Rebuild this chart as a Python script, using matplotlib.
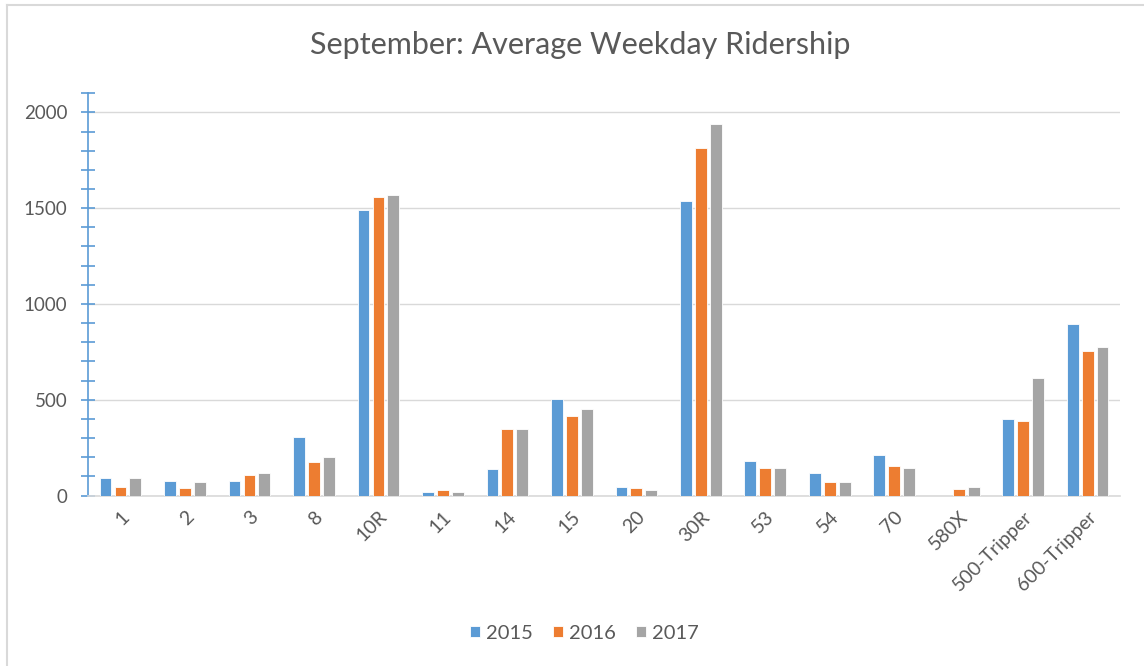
import numpy as np
import matplotlib
matplotlib.use("Agg")
import matplotlib.pyplot as plt
from matplotlib.lines import Line2D
from matplotlib.ticker import MultipleLocator

routes = ['1', '2', '3', '8', '10R', '11', '14', '15', '20', '30R',
          '53', '54', '70', '580X', '500-Tripper', '600-Tripper']
years = ['2015', '2016', '2017']
r2015 = [92, 75, 75, 304, 1488, 20, 138, 505, 45, 1537, 180, 120, 210, 0, 398, 894]
r2016 = [45, 40, 105, 174, 1560, 28, 346, 417, 40, 1814, 146, 73, 156, 33, 388, 753]
r2017 = [92, 70, 117, 202, 1567, 20, 346, 453, 27, 1940, 146, 68, 146, 44, 612, 776]
colors = ['#5B9BD5', '#ED7D31', '#A5A5A5']

plt.rcParams['font.family'] = ['Lato', 'DejaVu Sans']
txt = '#595959'

fig = plt.figure(figsize=(11.44, 6.66), dpi=100)
ax = fig.add_axes([0.077, 0.256, 0.902, 0.604])

x = np.arange(len(routes))
w = 0.18
step = 0.232
for i, vals in enumerate([r2015, r2016, r2017]):
    ax.bar(x + (i - 1) * step, vals, width=w, color=colors[i],
           edgecolor='white', linewidth=0.6, label=years[i], zorder=3)

ax.set_xlim(-0.5, len(routes) - 0.5)
ax.set_ylim(0, 2100)
ax.set_yticks([0, 500, 1000, 1500, 2000])
ax.yaxis.set_minor_locator(MultipleLocator(100))
ax.grid(axis='y', which='major', color='#D9D9D9', lw=1, zorder=0)

for s in ['top', 'right']:
    ax.spines[s].set_visible(False)
ax.spines['bottom'].set_color('#D9D9D9')
ax.spines['bottom'].set_linewidth(1.2)
ax.spines['left'].set_color('#5B9BD5')
ax.spines['left'].set_linewidth(1.2)

ax.tick_params(axis='y', which='both', direction='inout', color='#5B9BD5',
               length=10, width=1.2, labelsize=13.5, labelcolor=txt, pad=10)
ax.tick_params(axis='y', which='minor', length=10)
ax.tick_params(axis='x', length=0, pad=9)
ax.set_xticks(x)
ax.set_xticklabels(routes, rotation=45, ha='right', rotation_mode='anchor',
                   fontsize=14, color=txt)

fig.text(0.507, 0.932, 'September: Average Weekday Ridership', ha='center',
         va='center', fontsize=22, color=txt)

leg = fig.legend(loc='center', bbox_to_anchor=(0.511, 0.049), ncol=3, frameon=False,
                 fontsize=14.5, handlelength=0.5, handleheight=0.5,
                 handletextpad=0.3, columnspacing=1.0)
for t in leg.get_texts():
    t.set_color(txt)

# outer chart frame (left and top edges visible)
fig.add_artist(Line2D([0.0065, 0.0065], [0, 0.9925], color='#D9D9D9', lw=1.5))
fig.add_artist(Line2D([0.0065, 1.0], [0.9925, 0.9925], color='#D9D9D9', lw=1.5))

fig.savefig('out.png', dpi=100)
